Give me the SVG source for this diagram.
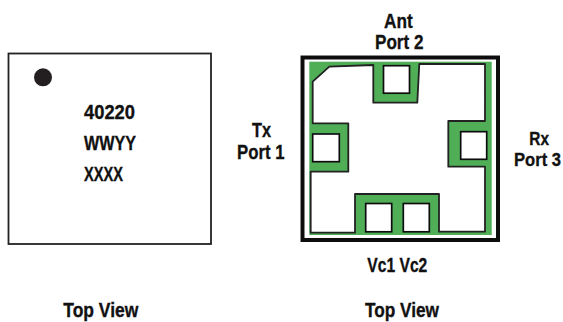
<svg xmlns="http://www.w3.org/2000/svg" width="563" height="322" viewBox="0 0 563 322">
<defs><filter id="soft" x="-5%" y="-5%" width="110%" height="110%"><feGaussianBlur stdDeviation="0.4"/></filter></defs>
<style>
text{font-family:"Liberation Sans",Arial,sans-serif;font-weight:700;font-size:20.5px;fill:#111;stroke:#111;stroke-width:.35px;}
.tight{font-size:19px;}
.pad{fill:#fff;stroke:#111;stroke-width:1.7;}
</style>
<rect width="563" height="322" fill="#fff"/>
<g id="top-marking">
<rect x="8.500" y="53.500" width="202.500" height="190.500" fill="#fff" stroke="#222" stroke-width="1.800"/>
<circle cx="43" cy="77.300" r="9" fill="#231f20"/>
<text x="84" y="119" textLength="51" lengthAdjust="spacingAndGlyphs">40220</text>
<text x="84" y="150" textLength="52" lengthAdjust="spacingAndGlyphs">WWYY</text>
<text x="84" y="180.500" textLength="39" lengthAdjust="spacingAndGlyphs">XXXX</text>
</g>
<g id="package" filter="url(#soft)">
<rect x="302.500" y="57.500" width="195.500" height="182.500" fill="#fff" stroke="#111" stroke-width="4"/>
<rect x="309.300" y="61.700" width="182.400" height="173.300" fill="#4fae57"/>
<path d="M312.700 81.700L329.300 66.700L373.300 65L373.300 102.700L417.300 102.700L419.300 64L485 64L485 121L448.300 121L448.300 166.700L485 166.700L485 231.700L439 231.700L439 194L355 194L355 232.700L310.700 232.700L310.700 171.700L348.300 171.700L348.300 123.300L312.700 123.300Z" fill="#fff" stroke="#222" stroke-width="1.800" stroke-linejoin="round"/>
<rect class="pad" x="383.500" y="65.700" width="26" height="27.500"/>
<rect class="pad" x="312.700" y="134" width="26.600" height="27.700"/>
<rect class="pad" x="460.700" y="131.700" width="26" height="27.600"/>
<rect class="pad" x="365.700" y="203.500" width="26" height="28.300"/>
<rect class="pad" x="403.300" y="203.500" width="26" height="28.300"/>
</g>
<g id="labels">
<text x="384" y="27.500" textLength="28.700" lengthAdjust="spacingAndGlyphs">Ant</text>
<text x="375" y="49.300" textLength="48.500" lengthAdjust="spacingAndGlyphs">Port 2</text>
<text x="252" y="137.300" textLength="19" lengthAdjust="spacingAndGlyphs">Tx</text>
<text x="237" y="159.300" textLength="47.500" lengthAdjust="spacingAndGlyphs">Port 1</text>
<text class="tight" x="529.300" y="144.500" textLength="19.700" lengthAdjust="spacingAndGlyphs">Rx</text>
<text class="tight" transform="translate(514 165.700) scale(.873 1)">Port 3</text>
<text x="367.300" y="271.700" textLength="60" lengthAdjust="spacingAndGlyphs">Vc1 Vc2</text>
<text x="63.300" y="317.300" textLength="75" lengthAdjust="spacingAndGlyphs">Top View</text>
<text x="365" y="317.300" textLength="74" lengthAdjust="spacingAndGlyphs">Top View</text>
</g>
</svg>
